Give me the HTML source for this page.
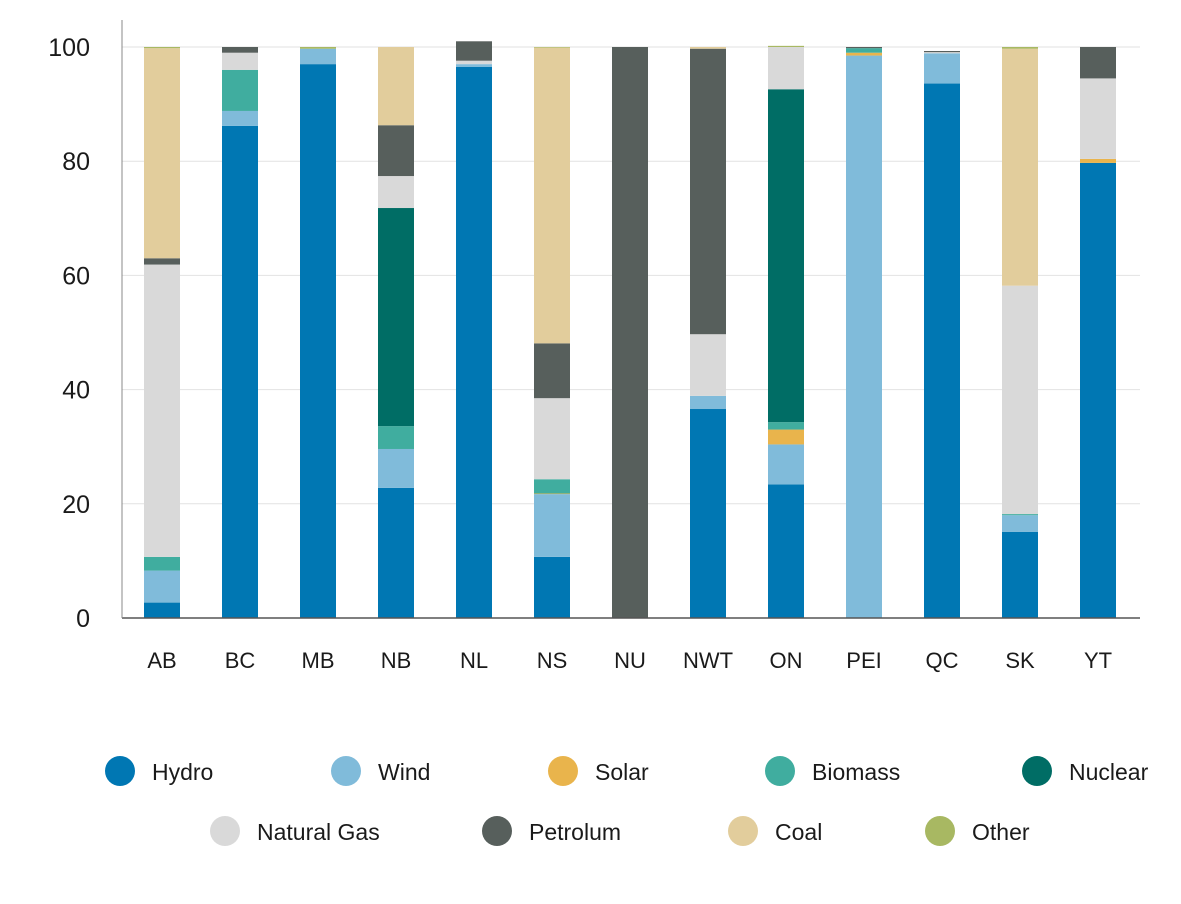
<!DOCTYPE html>
<html><head><meta charset="utf-8"><style>
body{margin:0;background:#fff;}
svg text{font-family:"Liberation Sans",sans-serif;fill:#1a1a1a;}
</style></head><body>
<svg id="chart" width="1181" height="899" xmlns="http://www.w3.org/2000/svg"></svg>
<script>
const categories=["AB","BC","MB","NB","NL","NS","NU","NWT","ON","PEI","QC","SK","YT"];
const seriesNames=["Hydro","Wind","Solar","Biomass","Nuclear","Natural Gas","Petrolum","Coal","Other"];
const hydro  =[2.7,86.2,97,22.8,96.5,10.7,0,36.6,23.4,0,93.6,15.1,79.7];
const wind   =[5.6,2.6,2.7,6.8,0.5,11,0,2.3,7,98.5,5.3,2.9,0];
const solar  =[0,0,0,0,0,0.1,0,0,2.6,0.5,0,0,0.7];
const biomass=[2.4,7.2,0,4,0,2.5,0,0,1.3,0.8,0,0.2,0];
const nuclear=[0,0,0,38.2,0,0,0,0,58.3,0,0,0,0];
const gas    =[51.2,3,0,5.6,0.6,14.2,0,10.8,7.4,0,0.2,40,14.1];
const petrol =[1.1,1,0,8.9,3.4,9.6,100,50,0,0.2,0.2,0,5.5];
const coal   =[36.8,0,0,13.7,0,51.8,0,0.3,0,0,0,41.5,0];
const other  =[0.2,0,0.3,0,0,0.1,0,0,0.2,0,0,0.3,0];
const yTicks=[0,20,40,60,80,100];
const series=[hydro,wind,solar,biomass,nuclear,gas,petrol,coal,other];
const colors=["#0077b3","#80bbda","#e9b44c","#40ad9f","#006d65","#d9d9d9","#575f5c","#e2cd9c","#a8b862"];
const NS="http://www.w3.org/2000/svg";
const svg=document.getElementById('chart');
const x0=122,x1=1140,y0=618,yTop=47;
const y=v=>y0-(v/100)*(y0-yTop);
const step=78;
const xc=i=>162+step*i;
const bw=36;
function mk(t,a){const e=document.createElementNS(NS,t);for(const k in a)e.setAttribute(k,a[k]);svg.appendChild(e);return e;}
yTicks.forEach(t=>{
  if(t>0){const g=mk('line',{x1:x0,x2:x1,y1:y(t),y2:y(t),stroke:'#e2e2e2','stroke-width':1});
  
  }
  const tx=mk('text',{x:90,y:y(t)+9,'text-anchor':'end','font-size':25});
  tx.textContent=t;
  
  
});
categories.forEach((c,i)=>{
  let acc=0;
  series.forEach((s,k)=>{
    const v=s[i]; if(!v) return;
    const r=mk('rect',{x:xc(i)-bw/2,y:y(acc+v),width:bw,height:y(acc)-y(acc+v),fill:colors[k]});
    
    
    acc+=v;
  });
  const tx=mk('text',{x:xc(i),y:668,'text-anchor':'middle','font-size':22});
  tx.textContent=c;
  
  
});
const ax=mk('line',{x1:x0,x2:x1,y1:y0,y2:y0,stroke:'#555','stroke-width':1.5});


const ax2=mk('line',{x1:x0,x2:x0,y1:20,y2:y0,stroke:'#888','stroke-width':1});


const legPos=[[120,771],[346,771],[563,771],[780,771],[1037,771],[225,831],[497,831],[743,831],[940,831]];
seriesNames.forEach((n,k)=>{
  const [lx,ly]=legPos[k];
  const c=mk('circle',{cx:lx,cy:ly,r:15,fill:colors[k]});
  
  
  const t=mk('text',{x:lx+32,y:ly+9,'font-size':23});
  t.textContent=n;
  
  
});
</script>
</body></html>
